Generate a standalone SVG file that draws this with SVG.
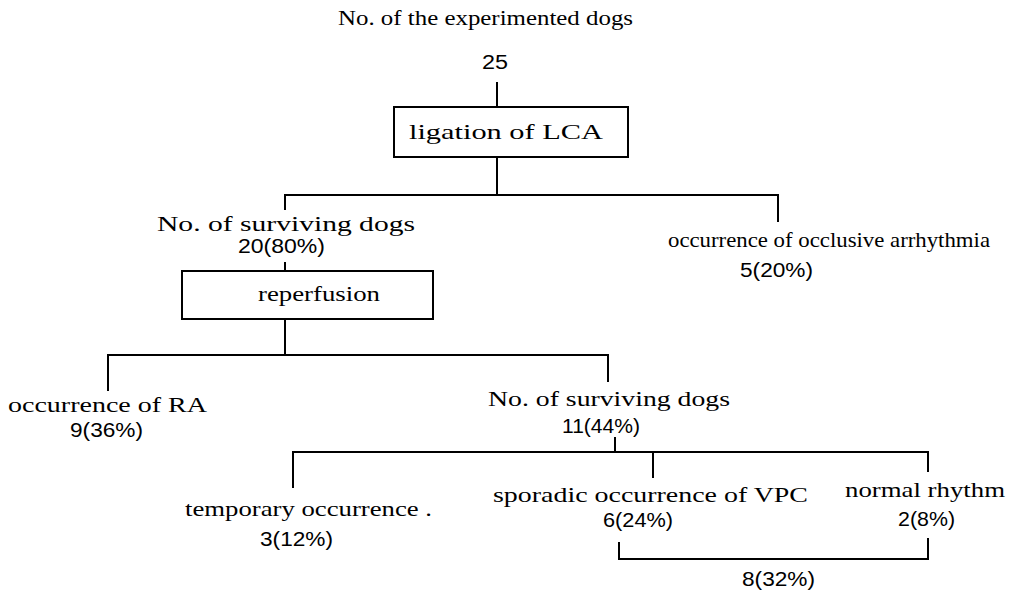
<svg xmlns="http://www.w3.org/2000/svg" width="1019" height="592" viewBox="0 0 1019 592">
<style>
.s{font-family:"Liberation Serif","Times New Roman",serif;font-size:22px;fill:#000}
.n{font-family:"Liberation Sans",Arial,sans-serif;font-size:20px;fill:#000}
.box{fill:#fff;stroke:#000;stroke-width:2}
.c{fill:none;stroke:#000;stroke-width:2}
</style>
<rect width="1019" height="592" fill="#fff"/>
<g id="connectors">
<path class="c" d="M497,82V107"/>
<path class="c" d="M497,157V195"/>
<path class="c" d="M285,210V195H778V222"/>
<path class="c" d="M285,262V271"/>
<path class="c" d="M285,319V355"/>
<path class="c" d="M108,391V355H608V382"/>
<path class="c" d="M615,437V452"/>
<path class="c" d="M293,488V452H928V472"/>
<path class="c" d="M653,452V478"/>
<path class="c" d="M619,542V559H928V538"/>
</g>
<g id="start">
<text class="s" x="338" y="25" textLength="295" lengthAdjust="spacingAndGlyphs">No. of the experimented dogs</text>
<text class="n" x="482" y="69" textLength="26" lengthAdjust="spacingAndGlyphs">25</text>
</g>
<g id="ligation">
<rect class="box" x="394" y="107" width="234" height="50"/>
<text class="s" x="409" y="139" textLength="194" lengthAdjust="spacingAndGlyphs">ligation of LCA</text>
</g>
<g id="surviving1">
<text class="s" x="157" y="231" textLength="258" lengthAdjust="spacingAndGlyphs">No. of surviving dogs</text>
<text class="n" x="238" y="253" textLength="87" lengthAdjust="spacingAndGlyphs">20(80%)</text>
</g>
<g id="occlusive">
<text class="s" x="668" y="247" textLength="322" lengthAdjust="spacingAndGlyphs">occurrence of occlusive arrhythmia</text>
<text class="n" x="740" y="277" textLength="73" lengthAdjust="spacingAndGlyphs">5(20%)</text>
</g>
<g id="reperfusion">
<rect class="box" x="182" y="271" width="251" height="48"/>
<text class="s" x="258" y="301" textLength="122" lengthAdjust="spacingAndGlyphs">reperfusion</text>
</g>
<g id="ra">
<text class="s" x="8" y="412" textLength="199" lengthAdjust="spacingAndGlyphs">occurrence of RA</text>
<text class="n" x="70" y="437" textLength="73" lengthAdjust="spacingAndGlyphs">9(36%)</text>
</g>
<g id="surviving2">
<text class="s" x="488" y="406" textLength="242" lengthAdjust="spacingAndGlyphs">No. of surviving dogs</text>
<text class="n" x="562" y="433" textLength="78" lengthAdjust="spacingAndGlyphs">11(44%)</text>
</g>
<g id="temporary">
<text class="s" x="185" y="516" textLength="247" lengthAdjust="spacingAndGlyphs">temporary occurrence .</text>
<text class="n" x="260" y="546" textLength="73" lengthAdjust="spacingAndGlyphs">3(12%)</text>
</g>
<g id="sporadic">
<text class="s" x="493" y="502" textLength="315" lengthAdjust="spacingAndGlyphs">sporadic occurrence of VPC</text>
<text class="n" x="603" y="527" textLength="70" lengthAdjust="spacingAndGlyphs">6(24%)</text>
</g>
<g id="normal">
<text class="s" x="845" y="497" textLength="160" lengthAdjust="spacingAndGlyphs">normal rhythm</text>
<text class="n" x="898" y="526" textLength="57" lengthAdjust="spacingAndGlyphs">2(8%)</text>
</g>
<g id="sum">
<text class="n" x="742" y="586" textLength="73" lengthAdjust="spacingAndGlyphs">8(32%)</text>
</g>
</svg>
